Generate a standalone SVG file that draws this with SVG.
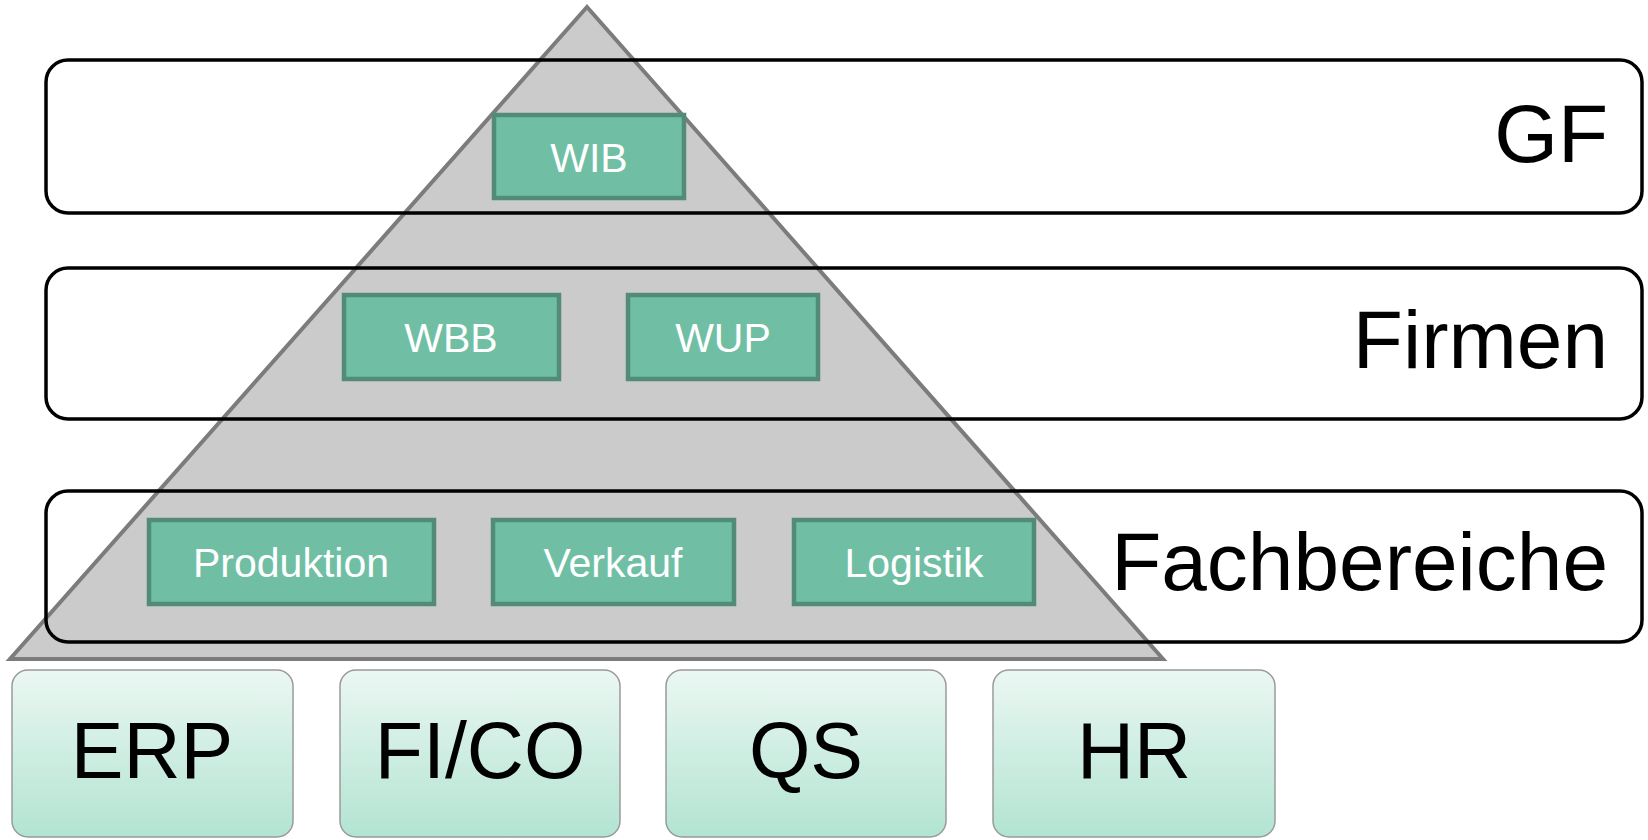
<svg xmlns="http://www.w3.org/2000/svg" width="1648" height="840" viewBox="0 0 1648 840">
<defs>
<linearGradient id="sysGrad" x1="0" y1="0" x2="0" y2="1">
<stop offset="0" stop-color="#ebf7f2"/>
<stop offset="1" stop-color="#b2e4d2"/>
</linearGradient>
<style>
.band{fill:none;stroke:#000;stroke-width:3.5}
.bandLabel{font-family:"Liberation Sans",Arial,sans-serif;font-size:82px;fill:#000;text-anchor:end}
.unit{fill:#70bfa5;stroke:#528c79;stroke-width:4.5}
.unitLabel{font-family:"Liberation Sans",Arial,sans-serif;font-size:41px;fill:#fff;text-anchor:middle}
.sys{fill:url(#sysGrad);stroke:#9a9a9a;stroke-width:1.5}
.sysLabel{font-family:"Liberation Sans",Arial,sans-serif;font-size:79px;fill:#000;text-anchor:middle}
</style>
</defs>
<rect width="1648" height="840" fill="#fff"/>
<g id="pyramid">
<polygon points="587,7 1163,659 10,659" fill="#cbcbcb" stroke="#7c7c7c" stroke-width="4" stroke-linejoin="miter"/>
</g>
<g id="connectors"></g>
<g id="band-gf">
<rect class="band" x="46" y="60" width="1596" height="153" rx="22" ry="22"/>
<text class="bandLabel" x="1608" y="162">GF</text>
</g>
<g id="band-firmen">
<rect class="band" x="46" y="268" width="1596" height="151" rx="22" ry="22"/>
<text class="bandLabel" x="1608" y="368">Firmen</text>
</g>
<g id="band-fachbereiche">
<rect class="band" x="46" y="491" width="1596" height="151" rx="22" ry="22"/>
<text class="bandLabel" x="1608" y="590">Fachbereiche</text>
</g>
<g id="wib">
<rect class="unit" x="494" y="115" width="190" height="83"/>
<text class="unitLabel" x="589" y="172">WIB</text>
</g>
<g id="wbb">
<rect class="unit" x="344" y="295" width="215" height="84"/>
<text class="unitLabel" x="451" y="352">WBB</text>
</g>
<g id="wup">
<rect class="unit" x="628" y="295" width="190" height="84"/>
<text class="unitLabel" x="723" y="352">WUP</text>
</g>
<g id="produktion">
<rect class="unit" x="149" y="520" width="285" height="84"/>
<text class="unitLabel" x="291" y="577">Produktion</text>
</g>
<g id="verkauf">
<rect class="unit" x="493" y="520" width="241" height="84"/>
<text class="unitLabel" x="613" y="577">Verkauf</text>
</g>
<g id="logistik">
<rect class="unit" x="794" y="520" width="240" height="84"/>
<text class="unitLabel" x="914" y="577">Logistik</text>
</g>
<g id="erp">
<rect class="sys" x="12" y="670" width="281" height="167" rx="16" ry="16"/>
<text class="sysLabel" x="152" y="778">ERP</text>
</g>
<g id="fico">
<rect class="sys" x="340" y="670" width="280" height="167" rx="16" ry="16"/>
<text class="sysLabel" x="480" y="778">FI/CO</text>
</g>
<g id="qs">
<rect class="sys" x="666" y="670" width="280" height="167" rx="16" ry="16"/>
<text class="sysLabel" x="806" y="778">QS</text>
</g>
<g id="hr">
<rect class="sys" x="993" y="670" width="282" height="167" rx="16" ry="16"/>
<text class="sysLabel" x="1134" y="778">HR</text>
</g>
</svg>
